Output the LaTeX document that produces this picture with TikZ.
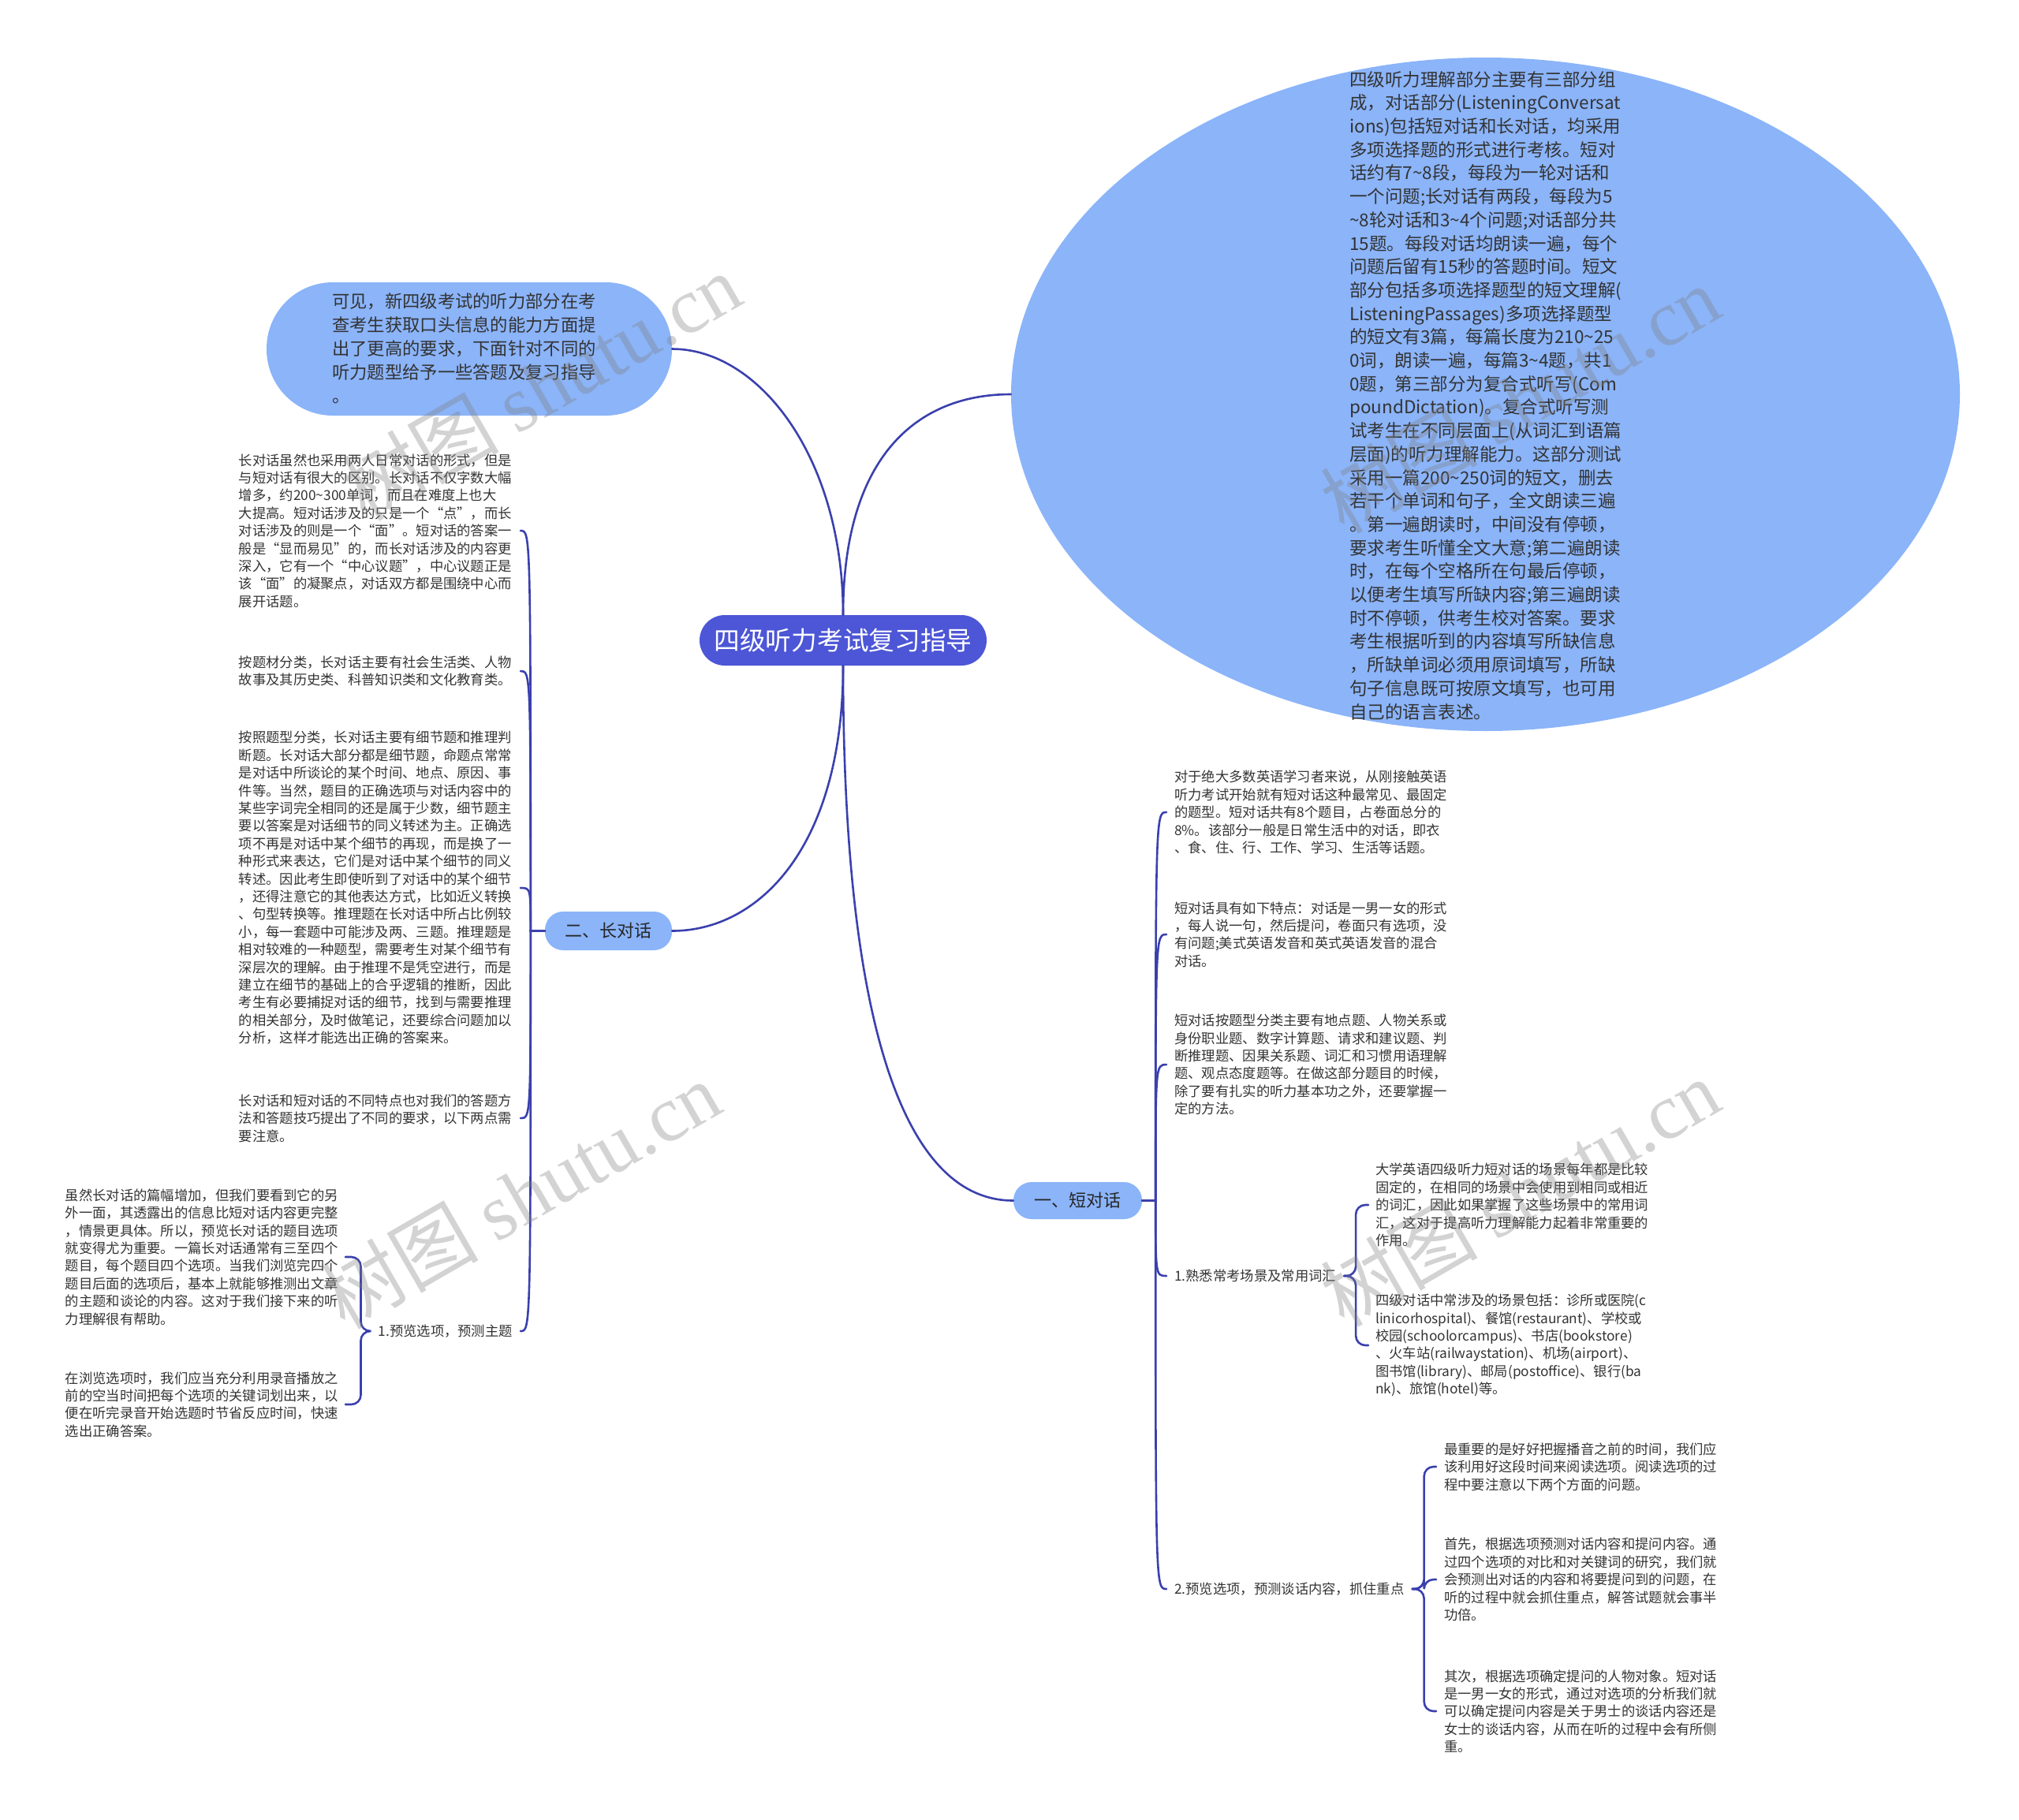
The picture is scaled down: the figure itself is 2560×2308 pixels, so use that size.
\documentclass[tikz,border=0pt]{standalone}
\usepackage{fontspec}
\setmainfont{Noto Sans CJK SC}
\newfontfamily\wmserif{Liberation Serif}
\usetikzlibrary{shapes.geometric}
\newcommand\tld{\textasciitilde}
\definecolor{rootblue}{HTML}{4C56D6}
\definecolor{lightblue}{HTML}{8BB4F9}
\definecolor{linec}{HTML}{3A40AD}
\definecolor{txt}{HTML}{333333}
\definecolor{wmgray}{HTML}{808080}
\tikzset{
  conn/.style={draw=linec, line width=2.6pt, line cap=round},
  brk/.style={conn, rounded corners=12pt},
  para/.style={text=txt, font=\fontsize{17.3}{22.4}\selectfont, align=left, text width=348pt, inner ysep=0pt},
  lbl/.style={text=txt, font=\fontsize{17.3}{22.4}\selectfont, inner ysep=0pt},
  topic/.style={fill=lightblue, text=black!85, rounded corners=23pt, font=\fontsize{22}{26}\selectfont, inner sep=0pt},
  wm/.style={text=wmgray, opacity=0.35, rotate=30, font=\fontsize{100}{100}\selectfont},
}
\begin{document}
\begin{tikzpicture}[x=1pt,y=-1pt]
\useasboundingbox (0,0) rectangle (2560,2308);

% main shapes
\node[ellipse, fill=lightblue, minimum width=1203pt, minimum height=854pt, inner sep=0pt] (ell) at (1883.5,500) {};
\node[fill=lightblue, rounded corners=84pt, minimum width=514pt, minimum height=169pt, inner sep=0pt] (kj) at (595,442.5) {};
\node[fill=rootblue, text=white, rounded corners=32pt, minimum width=364pt, minimum height=64pt, font=\fontsize{32.7}{36}\selectfont, inner sep=0pt] (root) at (1069,812) {四级听力考试复习指导};
\node[topic, minimum width=161pt, minimum height=49pt] (n2) at (771.5,1180.5) {二、长对话};
\node[topic, minimum width=163pt, minimum height=47pt] (n1) at (1366.5,1522.5) {一、短对话};

% texts in big shapes
\node[text=txt, font=\fontsize{22.5}{29.7}\selectfont, align=left, anchor=west, inner sep=0pt] (elltxt) at (1711,501.5) {四级听力理解部分主要有三部分组\\成，对话部分(ListeningConversat\\ions)包括短对话和长对话，均采用\\多项选择题的形式进行考核。短对\\话约有7\tld{}8段，每段为一轮对话和\\一个问题;长对话有两段，每段为5\\\tld{}8轮对话和3\tld{}4个问题;对话部分共\\15题。每段对话均朗读一遍，每个\\问题后留有15秒的答题时间。短文\\部分包括多项选择题型的短文理解(\\ListeningPassages)多项选择题型\\的短文有3篇，每篇长度为210\tld{}25\\0词，朗读一遍，每篇3\tld{}4题，共1\\0题，第三部分为复合式听写(Com\\poundDictation)。复合式听写测\\试考生在不同层面上(从词汇到语篇\\层面)的听力理解能力。这部分测试\\采用一篇200\tld{}250词的短文，删去\\若干个单词和句子，全文朗读三遍\\。第一遍朗读时，中间没有停顿，\\要求考生听懂全文大意;第二遍朗读\\时，在每个空格所在句最后停顿，\\以便考生填写所缺内容;第三遍朗读\\时不停顿，供考生校对答案。要求\\考生根据听到的内容填写所缺信息\\，所缺单词必须用原词填写，所缺\\句子信息既可按原文填写，也可用\\自己的语言表述。};

\node[text=txt, font=\fontsize{22.3}{30}\selectfont, align=left, anchor=west, inner sep=0pt] (kjtxt) at (421,442) {可见，新四级考试的听力部分在考\\查考生获取口头信息的能力方面提\\出了更高的要求，下面针对不同的\\听力题型给予一些答题及复习指导\\。};

% left branch texts
\node[para, anchor=east, inner xsep=9pt] (c1) at (660,673) {长对话虽然也采用两人日常对话的形式，但是\\与短对话有很大的区别。长对话不仅字数大幅\\增多，约200\tld{}300单词，而且在难度上也大\\大提高。短对话涉及的只是一个“点”，而长\\对话涉及的则是一个“面”。短对话的答案一\\般是“显而易见”的，而长对话涉及的内容更\\深入，它有一个“中心议题”，中心议题正是\\该“面”的凝聚点，对话双方都是围绕中心而\\展开话题。};
\node[para, anchor=east, inner xsep=9pt] (c2) at (660,851) {按题材分类，长对话主要有社会生活类、人物\\故事及其历史类、科普知识类和文化教育类。};
\node[para, anchor=east, inner xsep=9pt] (c3) at (660,1126) {按照题型分类，长对话主要有细节题和推理判\\断题。长对话大部分都是细节题，命题点常常\\是对话中所谈论的某个时间、地点、原因、事\\件等。当然，题目的正确选项与对话内容中的\\某些字词完全相同的还是属于少数，细节题主\\要以答案是对话细节的同义转述为主。正确选\\项不再是对话中某个细节的再现，而是换了一\\种形式来表达，它们是对话中某个细节的同义\\转述。因此考生即使听到了对话中的某个细节\\，还得注意它的其他表达方式，比如近义转换\\、句型转换等。推理题在长对话中所占比例较\\小，每一套题中可能涉及两、三题。推理题是\\相对较难的一种题型，需要考生对某个细节有\\深层次的理解。由于推理不是凭空进行，而是\\建立在细节的基础上的合乎逻辑的推断，因此\\考生有必要捕捉对话的细节，找到与需要推理\\的相关部分，及时做笔记，还要综合问题加以\\分析，这样才能选出正确的答案来。};
\node[para, anchor=east, inner xsep=9pt] (c4) at (660,1418) {长对话和短对话的不同特点也对我们的答题方\\法和答题技巧提出了不同的要求，以下两点需\\要注意。};
\node[lbl, anchor=east, inner xsep=10pt] (c5) at (660,1688) {1.预览选项，预测主题};
\node[para, anchor=east, inner xsep=7pt] (g1) at (438,1594) {虽然长对话的篇幅增加，但我们要看到它的另\\外一面，其透露出的信息比短对话内容更完整\\，情景更具体。所以，预览长对话的题目选项\\就变得尤为重要。一篇长对话通常有三至四个\\题目，每个题目四个选项。当我们浏览完四个\\题目后面的选项后，基本上就能够推测出文章\\的主题和谈论的内容。这对于我们接下来的听\\力理解很有帮助。};
\node[para, anchor=east, inner xsep=7pt] (g2) at (438,1781) {在浏览选项时，我们应当充分利用录音播放之\\前的空当时间把每个选项的关键词划出来，以\\便在听完录音开始选题时节省反应时间，快速\\选出正确答案。};

% right branch texts
\node[para, anchor=west, inner xsep=10pt] (s1) at (1479,1030) {对于绝大多数英语学习者来说，从刚接触英语\\听力考试开始就有短对话这种最常见、最固定\\的题型。短对话共有8个题目，占卷面总分的\\8\%。该部分一般是日常生活中的对话，即衣\\、食、住、行、工作、学习、生活等话题。};
\node[para, anchor=west, inner xsep=10pt] (s2) at (1479,1185) {短对话具有如下特点：对话是一男一女的形式\\，每人说一句，然后提问，卷面只有选项，没\\有问题;美式英语发音和英式英语发音的混合\\对话。};
\node[para, anchor=west, inner xsep=10pt] (s3) at (1479,1350) {短对话按题型分类主要有地点题、人物关系或\\身份职业题、数字计算题、请求和建议题、判\\断推理题、因果关系题、词汇和习惯用语理解\\题、观点态度题等。在做这部分题目的时候，\\除了要有扎实的听力基本功之外，还要掌握一\\定的方法。};
\node[lbl, anchor=west, inner xsep=10pt] (s4) at (1479,1618) {1.熟悉常考场景及常用词汇};
\node[para, anchor=west, inner xsep=9pt] (t1) at (1735,1528) {大学英语四级听力短对话的场景每年都是比较\\固定的，在相同的场景中会使用到相同或相近\\的词汇，因此如果掌握了这些场景中的常用词\\汇，这对于提高听力理解能力起着非常重要的\\作用。};
\node[para, anchor=west, inner xsep=9pt] (t2) at (1735,1706) {四级对话中常涉及的场景包括：诊所或医院(c\\linicorhospital)、餐馆(restaurant)、学校或\\校园(schoolorcampus)、书店(bookstore)\\、火车站(railwaystation)、机场(airport)、\\图书馆(library)、邮局(postoffice)、银行(ba\\nk)、旅馆(hotel)等。};
\node[lbl, anchor=west, inner xsep=10pt] (s5) at (1479,2015) {2.预览选项，预测谈话内容，抓住重点};
\node[para, anchor=west, inner xsep=10pt] (u1) at (1821,1860) {最重要的是好好把握播音之前的时间，我们应\\该利用好这段时间来阅读选项。阅读选项的过\\程中要注意以下两个方面的问题。};
\node[para, anchor=west, inner xsep=10pt] (u2) at (1821,2003) {首先，根据选项预测对话内容和提问内容。通\\过四个选项的对比和对关键词的研究，我们就\\会预测出对话的内容和将要提问到的问题，在\\听的过程中就会抓住重点，解答试题就会事半\\功倍。};
\node[para, anchor=west, inner xsep=10pt] (u3) at (1821,2170) {其次，根据选项确定提问的人物对象。短对话\\是一男一女的形式，通过对选项的分析我们就\\可以确定提问内容是关于男士的谈话内容还是\\女士的谈话内容，从而在听的过程中会有所侧\\重。};

% root connectors
\draw[conn] (root.north) .. controls +(0,-200) and +(-120,0) .. (ell.west);
\draw[conn] (root.north) .. controls +(0,-200) and +(110,0) .. (kj.east);
\draw[conn] (root.south) .. controls +(0,230) and +(110,0) .. (n2.east);
\draw[conn] (root.south) .. controls +(0,450) and +(-140,0) .. (n1.west);

% left branch connectors
\path (n2.west) ++(-18,0) coordinate (j2);
\draw[conn] (n2.west) -- (j2) .. controls (j2 |- c1.east) .. (c1.east);
\draw[conn] (n2.west) -- (j2) .. controls (j2 |- c2.east) .. (c2.east);
\draw[conn] (n2.west) -- (j2) .. controls (j2 |- c3.east) .. (c3.east);
\draw[conn] (n2.west) -- (j2) .. controls (j2 |- c4.east) .. (c4.east);
\draw[conn] (n2.west) -- (j2) .. controls (j2 |- c5.east) .. (c5.east);
\path (c5.west) ++(-12,0) coordinate (jc5);
\draw[brk] (c5.west) -- (jc5) |- (g1.east);
\draw[brk] (c5.west) -- (jc5) |- (g2.east);

% right branch connectors
\path (n1.east) ++(17,0) coordinate (j1);
\draw[conn] (n1.east) -- (j1) .. controls (j1 |- s1.west) .. (s1.west);
\draw[conn] (n1.east) -- (j1) .. controls (j1 |- s2.west) .. (s2.west);
\draw[conn] (n1.east) -- (j1) .. controls (j1 |- s3.west) .. (s3.west);
\draw[conn] (n1.east) -- (j1) .. controls (j1 |- s4.west) .. (s4.west);
\draw[conn] (n1.east) -- (j1) .. controls (j1 |- s5.west) .. (s5.west);
\path (s4.east) ++(15,0) coordinate (js4);
\draw[brk] (s4.east) -- (js4) |- (t1.west);
\draw[brk] (s4.east) -- (js4) |- (t2.west);
\path (s5.east) ++(15,0) coordinate (js5);
\draw[brk] (s5.east) -- (js5) |- (u1.west);
\draw[brk] (s5.east) -- (js5) |- (u2.west);
\draw[brk] (s5.east) -- (js5) |- (u3.west);

% watermarks
\node[wm] (w1) at (686,490) {树图 {\wmserif shutu.cn}};
\node[wm] (w2) at (660,1515) {树图 {\wmserif shutu.cn}};
\node[wm] (w3) at (1927,506) {树图 {\wmserif shutu.cn}};
\node[wm] (w4) at (1927,1512) {树图 {\wmserif shutu.cn}};
\end{tikzpicture}
\end{document}
